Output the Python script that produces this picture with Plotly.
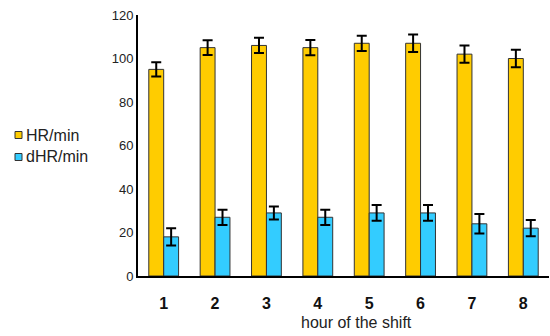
import plotly.graph_objects as go

hours = ["1", "2", "3", "4", "5", "6", "7", "8"]
hr_values = [95, 105, 106, 105, 107, 107, 102, 100]
hr_errors = [3.3, 3.4, 3.5, 3.5, 3.5, 4.0, 4.0, 4.0]
dhr_values = [18, 27, 29, 27, 29, 29, 24, 22]
dhr_errors = [4.0, 3.5, 3.0, 3.5, 3.6, 3.6, 4.5, 3.7]
series_names = ["HR/min", "dHR/min"]
series_colors = ["#FFCC00", "#33CCFF"]

fig = go.Figure()
for name, vals, errs, col in zip(series_names, [hr_values, dhr_values],
                                 [hr_errors, dhr_errors], series_colors):
    fig.add_trace(go.Bar(
        x=hours, y=vals, name=name,
        marker=dict(color=col, line=dict(color="#333333", width=1)),
        error_y=dict(type="data", array=errs, color="black", thickness=2, width=5),
    ))

# manual legend (small outlined squares + text)
plot_left, plot_w, plot_bottom, plot_h = 138, 411, 276, 261
def px_x(p):
    return (p - plot_left) / plot_w
def px_y(p):
    return (plot_bottom - p) / plot_h

shapes = []
annotations = []
for i, (name, col) in enumerate(zip(series_names, series_colors)):
    cy = 135 + i * 22
    shapes.append(dict(type="rect", xref="paper", yref="paper",
                       x0=px_x(15), x1=px_x(22), y0=px_y(cy + 3.5), y1=px_y(cy - 3.5),
                       fillcolor=col, line=dict(color="#333333", width=1)))
    annotations.append(dict(text=name, xref="paper", yref="paper",
                            x=px_x(24), y=px_y(cy), xanchor="left", yanchor="middle",
                            showarrow=False, font=dict(size=16, color="#222222")))

annotations.append(dict(
    text="hour of the shift", x=px_x(356), y=px_y(322), xref="paper", yref="paper",
    xanchor="center", yanchor="middle", showarrow=False,
    font=dict(size=16, color="#222222"),
))

fig.update_layout(
    width=550, height=336,
    margin=dict(l=138, r=1, t=15, b=60),
    paper_bgcolor="white", plot_bgcolor="white",
    barmode="group", bargap=0.42, bargroupgap=0,
    font=dict(family="Liberation Sans, Arial, sans-serif", color="#222222"),
    showlegend=False,
    xaxis=dict(
        showline=True, linecolor="black", linewidth=2,
        tickfont=dict(size=16, color="#111111"),
        ticks="", showgrid=False, zeroline=False,
        tickprefix="<b>", ticksuffix="</b>",
        ticklabelstandoff=12,
    ),
    yaxis=dict(
        range=[0, 120], dtick=20, showline=True, linecolor="black", linewidth=2,
        ticks="", showgrid=False, zeroline=False,
        tickfont=dict(size=13, color="#222222"),
    ),
    shapes=shapes,
    annotations=annotations,
)

fig.write_html("out.html")
